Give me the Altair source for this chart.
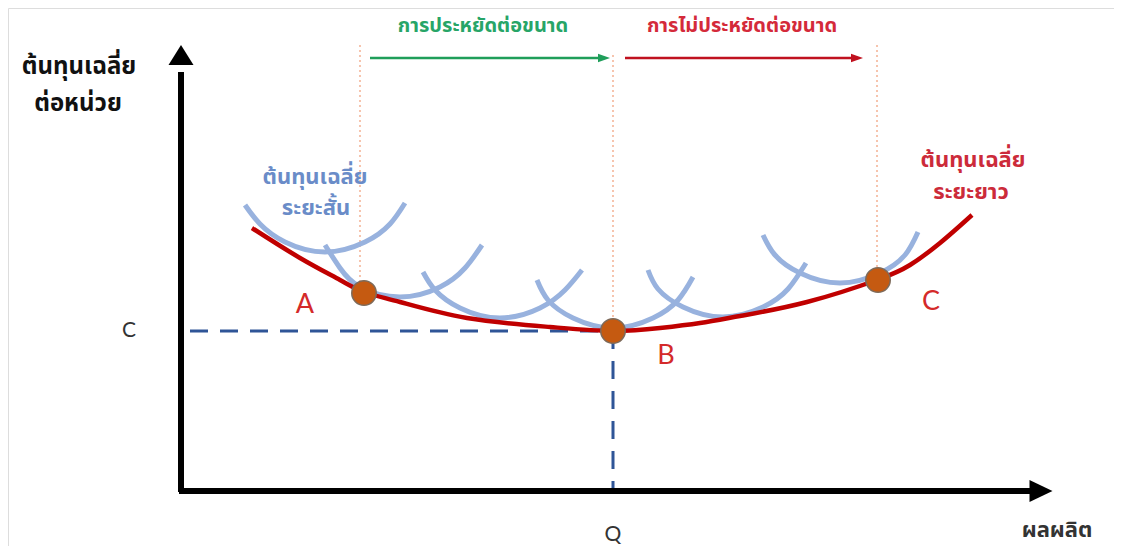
import altair as alt
import pandas as pd

# ---- data (quantity = x, average cost = y; origin at the axes' corner) ----
# Long-run average cost curve (red)
lrac_q = [69, 117, 157, 181, 217, 284, 367, 430, 477, 517, 557, 624, 694, 727, 757, 789]
lrac_c = [264, 234, 212, 200, 190, 174, 165, 161, 164, 169, 176, 190, 212, 227, 249, 277]

# Short-run average cost curves (light blue arcs)
srac_q = [
    [62, 77, 102, 142, 182, 207, 222],
    [142, 157, 177, 217, 257, 282, 299],
    [240, 252, 277, 317, 357, 382, 399],
    [354, 365, 390, 430, 470, 495, 510],
    [465, 475, 500, 540, 580, 605, 623],
    [580, 592, 617, 657, 697, 722, 735],
]
srac_c = [
    [287, 268, 250, 240, 250, 268, 289],
    [247, 224, 205, 195, 205, 224, 247],
    [220, 202, 184, 174, 184, 202, 222],
    [212, 192, 174, 164, 174, 192, 215],
    [222, 203, 185, 175, 185, 203, 229],
    [257, 237, 219, 209, 219, 237, 260],
]

# Tangency points A, B, C
point_names = ["A", "B", "C"]
point_q = [181, 430, 695]
point_c = [199, 161, 212]
point_label_q = [122, 483, 748]
point_label_c = [187, 136, 190]

# Optimum output Q and minimum cost C
q_star = 430
c_star = 161

# Region boundaries (dotted) and region arrows
bound_q = [177, 430, 694]
bound_top = [447, 437, 447]
bound_bottom = [199, 161, 212]
arrow_y = 434
green_arrow = [187, 416, 421]   # start, end of shaft, head centre
red_arrow = [442, 670, 674]

# Axis extents
x_axis_end = 850
x_head = 858
y_axis_end = 420
y_head = 437

# Texts
y_title = ["ต้นทุนเฉลี่ย", "ต่อหน่วย"]
x_title = "ผลผลิต"
srac_label = ["ต้นทุนเฉลี่ย", "ระยะสั้น"]
lrac_label = ["ต้นทุนเฉลี่ย", "ระยะยาว"]
econ_label = "การประหยัดต่อขนาด"
diseco_label = "การไม่ประหยัดต่อขนาด"

# ---- chart ----
XS = alt.Scale(domain=[-175, 931])
YS = alt.Scale(domain=[-54, 484])
THAI = "Noto Sans Thai, Tahoma, Loma, Garuda, Noto Sans, sans-serif"
LATIN = "Lato, Open Sans, sans-serif"


def X(f):
    return alt.X(f, type="quantitative", scale=XS, axis=None)


def Y(f):
    return alt.Y(f, type="quantitative", scale=YS, axis=None)


def segs(rows):
    return pd.DataFrame(rows, columns=["x0", "y0", "x1", "y1"])


def rule(df, **kw):
    return alt.Chart(df).mark_rule(**kw).encode(x=X("x0"), y=Y("y0"), x2="x1", y2="y1")


layers = []

# dotted boundaries
layers.append(rule(segs([[q, t, q, b] for q, t, b in zip(bound_q, bound_top, bound_bottom)]),
                   color="#f2a582", strokeWidth=1.3, strokeDash=[2, 3]))

# dashed guides to C and Q
layers.append(rule(segs([[7, c_star, q_star, c_star], [q_star, c_star, q_star, 0]]),
                   color="#2f5597", strokeWidth=3, strokeDash=[18, 12]))

# axes
layers.append(rule(segs([[-2, 0, -2, y_axis_end], [-4, 1, x_axis_end, 1]]),
                   color="black", strokeWidth=6))
heads = pd.DataFrame({"x": [-2, x_head], "y": [y_head, 1], "d": ["up", "right"]})
layers.append(alt.Chart(heads[heads.d == "up"]).mark_point(
    shape="M0,-1L1.25,1L-1.25,1Z", size=400, filled=True, color="black", opacity=1
).encode(x=X("x"), y=Y("y")))
layers.append(alt.Chart(heads[heads.d == "right"]).mark_point(
    shape="M1,0L-1,-0.95L-1,0.95Z", size=529, filled=True, color="black", opacity=1
).encode(x=X("x"), y=Y("y")))

# region arrows
for arr, col in [(green_arrow, "#1f9e5a"), (red_arrow, "#c0111f")]:
    layers.append(rule(segs([[arr[0], arrow_y, arr[1], arrow_y]]), color=col, strokeWidth=2.5))
    layers.append(alt.Chart(pd.DataFrame({"x": [arr[2]], "y": [arrow_y]})).mark_point(
        shape="M1,0L-1,-0.7L-1,0.7Z", size=144, filled=True, color=col, opacity=1
    ).encode(x=X("x"), y=Y("y")))

# SRAC arcs
rows = []
for i, (qs, cs) in enumerate(zip(srac_q, srac_c)):
    for j, (q, c) in enumerate(zip(qs, cs)):
        rows.append({"arc": i, "k": j, "q": q, "c": c})
layers.append(alt.Chart(pd.DataFrame(rows)).mark_line(
    color="#98b2de", strokeWidth=5, interpolate="natural", strokeCap="butt"
).encode(x=X("q"), y=Y("c"), detail="arc:N", order="k:Q"))

# LRAC
layers.append(alt.Chart(pd.DataFrame({"q": lrac_q, "c": lrac_c})).mark_line(
    color="#c00000", strokeWidth=4.5, interpolate="natural"
).encode(x=X("q"), y=Y("c")))

# tangency points
layers.append(alt.Chart(pd.DataFrame({"q": point_q, "c": point_c})).mark_point(
    size=600, filled=True, color="#c55a11", stroke="#7d6a5a", strokeWidth=1.5, opacity=1
).encode(x=X("q"), y=Y("c")))

# letters A B C
layers.append(alt.Chart(pd.DataFrame({"q": point_label_q, "c": point_label_c, "t": point_names})).mark_text(
    font=LATIN, fontSize=27, color="#d42a2a", align="center", baseline="middle"
).encode(x=X("q"), y=Y("c"), text="t"))

# C and Q on axes
layers.append(alt.Chart(pd.DataFrame({"q": [-54, q_star], "c": [c_star, -43], "t": ["C", "Q"]})).mark_text(
    font=LATIN, fontSize=21, color="#333333", align="center", baseline="middle"
).encode(x=X("q"), y=Y("c"), text="t"))


def text_layer(qs, cs, ts, size, color):
    return alt.Chart(pd.DataFrame({"q": qs, "c": cs, "t": ts})).mark_text(
        font=THAI, fontSize=size, fontWeight="bold", color=color, align="center", baseline="middle"
    ).encode(x=X("q"), y=Y("c"), text="t")


layers.append(text_layer([-104, -105], [425, 388], y_title, 24, "#111111"))
layers.append(text_layer([874], [-38], [x_title], 22, "#333333"))
layers.append(text_layer([132, 133], [315, 284], srac_label, 22, "#6a8cc8"))
layers.append(text_layer([790, 788], [332, 300], lrac_label, 22, "#cc2b3a"))
layers.append(text_layer([300], [466], [econ_label], 20, "#27a567"))
layers.append(text_layer([559], [466], [diseco_label], 20, "#d42a3a"))

chart = alt.layer(*layers).properties(
    width=1106, height=538, padding=0, autosize=alt.AutoSizeParams(type="none")
).configure_view(stroke=None).configure(background="white")

chart.save("out.html", embed_options={"renderer": "svg", "actions": False})
